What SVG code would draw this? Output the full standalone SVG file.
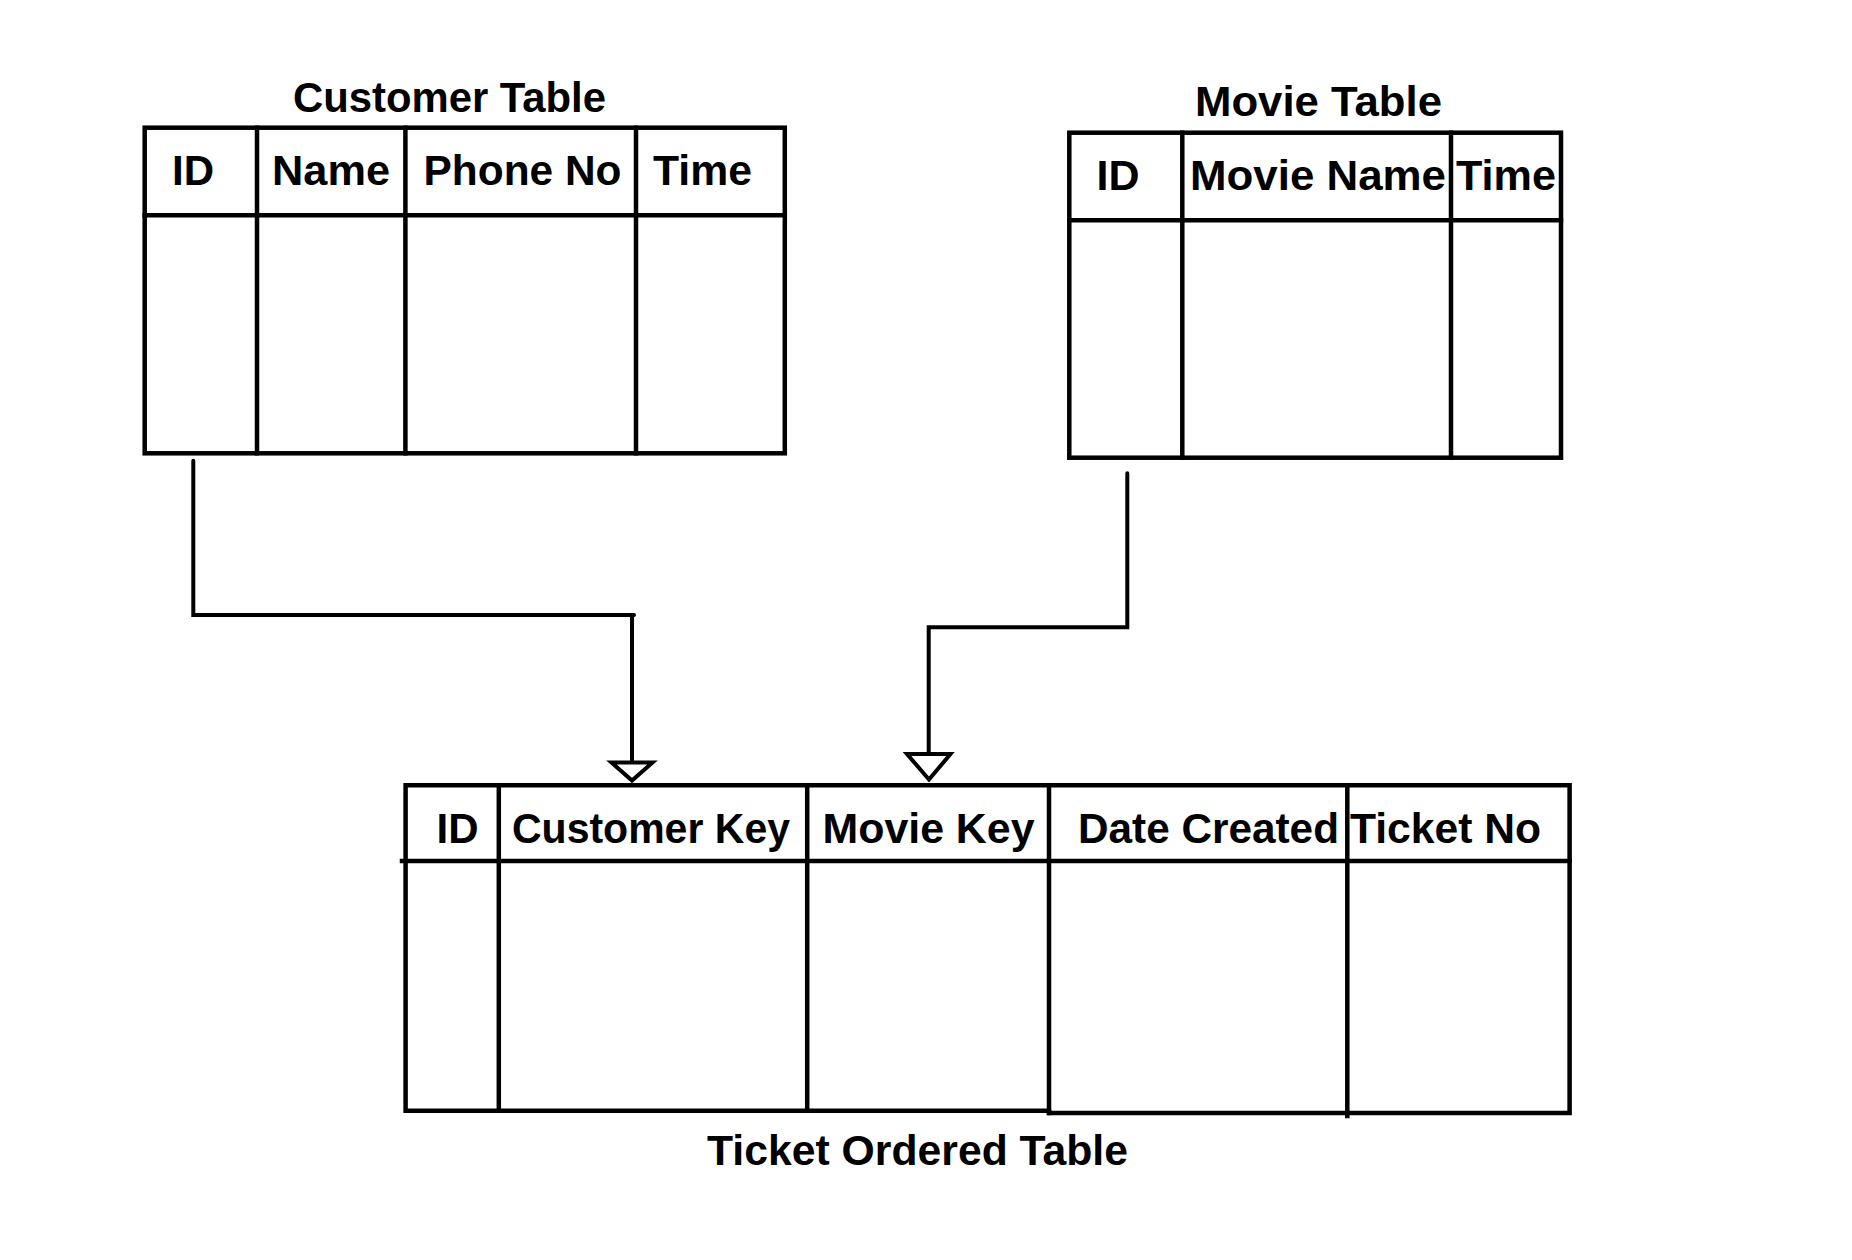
<svg xmlns="http://www.w3.org/2000/svg" width="1852" height="1260" viewBox="0 0 1852 1260">
<style>
.grid{fill:none;stroke:#000;stroke-width:4.5;stroke-linecap:square}
.conn{fill:none;stroke:#000;stroke-width:4;stroke-linecap:round;stroke-linejoin:miter}
.head{fill:#fff;stroke:#000;stroke-width:4;stroke-linejoin:miter}
.t{font-family:"Liberation Sans",Arial,sans-serif;font-weight:bold;fill:#000;font-size:42px}
.m{font-size:43px}
</style>
<rect width="1852" height="1260" fill="#fff"/>
<g id="connectors">
<polyline class="conn" points="193.3,460.7 193.3,615 634,615"/>
<line class="conn" x1="632" y1="615" x2="632" y2="764"/>
<polygon class="head" points="611.5,762.5 652.5,762.5 632,780.5"/>
<polyline class="conn" points="1127.3,473.3 1127.3,627.3 928.7,627.3 928.7,756"/>
<polygon class="head" points="907,754 950.5,754 929,779.5"/>
</g>
<g id="customer-table">
<text class="t" x="293" y="111.7" textLength="313" lengthAdjust="spacingAndGlyphs">Customer Table</text>
<rect class="grid" x="144.7" y="127.7" width="640.1" height="325.6"/>
<line class="grid" x1="144.7" y1="215.3" x2="784.8" y2="215.3"/>
<line class="grid" x1="257" y1="127.7" x2="257" y2="453.3"/>
<line class="grid" x1="405.4" y1="127.7" x2="405.4" y2="453.3"/>
<line class="grid" x1="636" y1="127.7" x2="636" y2="453.3"/>
<text class="t" x="172" y="185">ID</text>
<text class="t" x="272" y="185" textLength="118" lengthAdjust="spacingAndGlyphs">Name</text>
<text class="t" x="423.5" y="185" textLength="198" lengthAdjust="spacingAndGlyphs">Phone No</text>
<text class="t" x="653" y="185" textLength="99" lengthAdjust="spacingAndGlyphs">Time</text>
</g>
<g id="movie-table">
<text class="t m" x="1195" y="116" textLength="247" lengthAdjust="spacingAndGlyphs">Movie Table</text>
<rect class="grid" x="1069.3" y="132.7" width="491.7" height="325"/>
<line class="grid" x1="1069.3" y1="220.3" x2="1561" y2="220.3"/>
<line class="grid" x1="1182.3" y1="132.7" x2="1182.3" y2="457.7"/>
<line class="grid" x1="1451" y1="132.7" x2="1451" y2="457.7"/>
<text class="t m" x="1096.5" y="190">ID</text>
<text class="t m" x="1190" y="190" textLength="256" lengthAdjust="spacingAndGlyphs">Movie Name</text>
<text class="t m" x="1456" y="190" textLength="100" lengthAdjust="spacingAndGlyphs">Time</text>
</g>
<g id="ticket-ordered-table">
<polyline class="grid" points="1049,1110.7 405.6,1110.7 405.6,785.3 1569.6,785.3 1569.6,1113 1049,1113"/>
<line class="grid" x1="402" y1="861" x2="1569.6" y2="861"/>
<line class="grid" x1="498.8" y1="785.3" x2="498.8" y2="1110.7"/>
<line class="grid" x1="807.2" y1="785.3" x2="807.2" y2="1110.7"/>
<line class="grid" x1="1049" y1="785.3" x2="1049" y2="1113"/>
<line class="grid" x1="1347.3" y1="785.3" x2="1347.3" y2="1116"/>
<text class="t" x="436.5" y="842.7">ID</text>
<text class="t" x="512" y="842.7" textLength="278" lengthAdjust="spacingAndGlyphs">Customer Key</text>
<text class="t" x="822.5" y="842.7" textLength="212" lengthAdjust="spacingAndGlyphs">Movie Key</text>
<text class="t" x="1078" y="842.7" textLength="261" lengthAdjust="spacingAndGlyphs">Date Created</text>
<text class="t" x="1350" y="842.7" textLength="191" lengthAdjust="spacingAndGlyphs">Ticket No</text>
<text class="t" x="707" y="1165" textLength="421" lengthAdjust="spacingAndGlyphs">Ticket Ordered Table</text>
</g>
</svg>
